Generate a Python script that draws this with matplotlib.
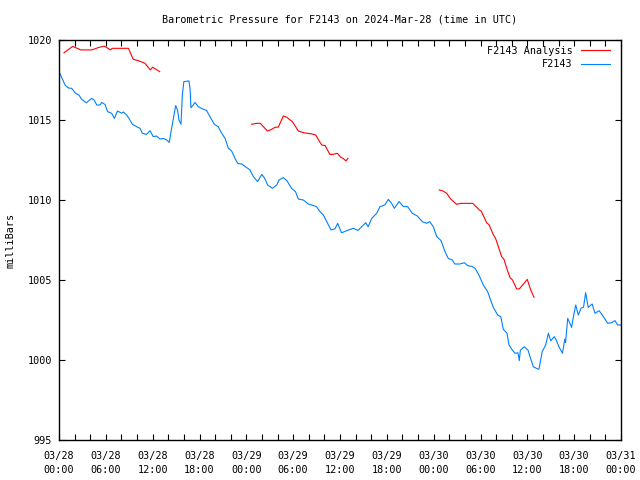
import matplotlib
matplotlib.use("Agg")
import matplotlib.pyplot as plt
import numpy as np

# ---- data (hours since 2024-03-28 00:00 UTC) ----
blue_h = [0.13, 0.77, 1.2, 1.62, 2.13, 2.56, 2.9, 3.5, 4.2, 4.5,
          4.83, 5.26, 5.47, 5.9, 6.23, 6.75, 7.09, 7.5, 8.03, 8.25,
          8.67, 8.97, 9.4, 9.95, 10.38, 10.67, 11.2, 11.66, 12.08, 12.5,
          12.94, 13.4, 13.8, 14.13, 14.35, 14.65, 14.95, 15.2, 15.37, 15.63,
          15.8, 16.0, 16.65, 16.8, 16.9, 17.2, 17.42, 17.85, 18.5, 18.9,
          19.35, 19.9, 20.4, 20.84, 21.27, 21.7, 22.12, 22.55, 22.9, 23.4,
          23.9, 24.47, 24.9, 25.45, 25.97, 26.3, 26.73, 27.33, 27.9, 28.18,
          28.74, 29.2, 29.8, 30.3, 30.66, 31.3, 31.94, 32.6, 33.0, 33.44,
          33.87, 34.3, 34.85, 35.36, 35.7, 36.2, 36.85, 37.7, 38.3, 38.78,
          39.3, 39.6, 40.06, 40.7, 41.12, 41.76, 42.19, 42.6, 42.96, 43.56,
          44.1, 44.67, 45.26, 45.9, 46.54, 47.1, 47.5, 47.95, 48.4, 48.95,
          49.45, 49.87, 50.4, 50.7, 51.35, 51.93, 52.35, 52.86, 53.3, 53.8,
          54.36, 54.92, 55.22, 55.64, 56.2, 56.6, 56.92, 57.4, 57.65, 58.0,
          58.42, 58.8, 58.97, 59.1, 59.6, 60.1, 60.34, 60.77, 61.4, 61.5,
          61.9, 62.35, 62.7, 63.0, 63.45, 63.7, 64.05, 64.5, 64.8, 64.9,
          65.17, 65.45, 65.67, 65.9, 66.2, 66.53, 66.9, 67.2, 67.47, 67.8,
          68.3, 68.67, 69.2, 69.74, 70.3, 70.8, 71.23, 71.57, 72.0]
blue_p = [1017.9, 1017.19, 1017.0, 1016.98, 1016.67, 1016.56, 1016.29, 1016.08, 1016.35, 1016.25,
          1015.94, 1015.94, 1016.1, 1015.97, 1015.52, 1015.42, 1015.1, 1015.56, 1015.42, 1015.5,
          1015.31, 1015.1, 1014.73, 1014.58, 1014.48, 1014.17, 1014.1, 1014.33, 1013.96, 1014.0,
          1013.81, 1013.85, 1013.75, 1013.6, 1014.27, 1015.1, 1015.9, 1015.6, 1015.0, 1014.73,
          1016.56, 1017.4, 1017.44, 1016.9, 1015.77, 1015.94, 1016.1, 1015.83, 1015.67, 1015.6,
          1015.2, 1014.73, 1014.58, 1014.17, 1013.86, 1013.23, 1013.06, 1012.6, 1012.29, 1012.25,
          1012.08, 1011.88, 1011.46, 1011.15, 1011.6, 1011.4, 1010.94, 1010.73, 1010.94, 1011.25,
          1011.4, 1011.2, 1010.73, 1010.52, 1010.06, 1010.0, 1009.75, 1009.65, 1009.58, 1009.27,
          1009.06, 1008.65, 1008.13, 1008.2, 1008.54, 1007.95, 1008.08, 1008.23, 1008.1, 1008.33,
          1008.58, 1008.33, 1008.85, 1009.17, 1009.58, 1009.7, 1010.04, 1009.8, 1009.48, 1009.9,
          1009.6, 1009.58, 1009.17, 1009.0, 1008.65, 1008.54, 1008.65, 1008.33, 1007.71, 1007.46,
          1006.77, 1006.35, 1006.25, 1006.0, 1006.0, 1006.08, 1005.9, 1005.85, 1005.73, 1005.31,
          1004.69, 1004.27, 1003.85, 1003.29, 1002.81, 1002.7, 1001.92, 1001.67, 1000.94, 1000.67,
          1000.42, 1000.45, 999.96, 1000.6, 1000.83, 1000.6, 1000.21, 999.58, 999.42, 999.45,
          1000.52, 1000.94, 1001.67, 1001.2, 1001.46, 1001.25, 1000.83, 1000.42, 1001.3, 1001.1,
          1002.6, 1002.3, 1002.04, 1002.7, 1003.44, 1002.81, 1003.25, 1003.3, 1004.21, 1003.29,
          1003.5, 1002.92, 1003.08, 1002.71, 1002.29, 1002.33, 1002.46, 1002.19, 1002.19]

red1_h = [0.64, 1.75, 2.8, 4.2, 5.0, 5.8, 6.6, 6.8, 8.9, 9.5, 10.2, 11.0, 11.7, 12.0, 12.9]
red1_p = [1019.2, 1019.6, 1019.38, 1019.38, 1019.52, 1019.62, 1019.38, 1019.48, 1019.48,
          1018.8, 1018.7, 1018.55, 1018.13, 1018.3, 1018.02]
red2_h = [24.68, 25.3, 25.8, 26.7, 27.1, 27.67, 28.1, 28.74, 29.2, 29.5, 29.9, 30.66, 31.4,
          32.37, 32.9, 33.2, 33.65, 34.1, 34.7, 35.1, 35.65, 36.1, 36.4, 36.77, 37.0]
red2_p = [1014.73, 1014.79, 1014.79, 1014.31, 1014.38, 1014.54, 1014.56, 1015.25, 1015.17,
          1015.04, 1014.9, 1014.31, 1014.2, 1014.13, 1014.06, 1013.8, 1013.44, 1013.4,
          1012.85, 1012.85, 1012.92, 1012.67, 1012.6, 1012.44, 1012.6]
red3_h = [48.72, 49.2, 49.67, 50.18, 50.95, 51.5, 53.0, 53.4, 53.85, 54.1, 54.79, 55.1,
          55.56, 55.97, 56.71, 57.0, 57.43, 57.78, 58.1, 58.63, 58.97, 59.99, 60.4, 60.85]
red3_p = [1010.63, 1010.56, 1010.42, 1010.06, 1009.73, 1009.79, 1009.79, 1009.6, 1009.38,
          1009.3, 1008.58, 1008.45, 1007.92, 1007.55, 1006.46, 1006.3, 1005.63, 1005.15,
          1005.0, 1004.44, 1004.44, 1005.04, 1004.42, 1003.92]

tick_dates = ["03/28", "03/28", "03/28", "03/28", "03/29", "03/29", "03/29", "03/29",
              "03/30", "03/30", "03/30", "03/30", "03/31"]
tick_times = ["00:00", "06:00", "12:00", "18:00"] * 3 + ["00:00"]
y_ticks = [995, 1000, 1005, 1010, 1015, 1020]

title = "Barometric Pressure for F2143 on 2024-Mar-28 (time in UTC)"

# ---- figure ----
FONT = "DejaVu Sans Mono"
FS = 7.3
plt.rcParams["font.family"] = FONT
fig = plt.figure(figsize=(6.4, 4.8), dpi=100)
ax = fig.add_axes([59 / 640, 1 - 440 / 480, (621 - 59) / 640, 400 / 480])

red_h = red1_h + [np.nan] + red2_h + [np.nan] + red3_h
red_p = red1_p + [np.nan] + red2_p + [np.nan] + red3_p

ax.plot(red_h, red_p, color="#ff0000", lw=0.8, label="F2143 Analysis")
ax.plot(blue_h, blue_p, color="#0080ff", lw=0.8, label="F2143")

ax.set_xlim(0, 72)
ax.set_ylim(995, 1020)
ax.set_xticks(np.arange(0, 73, 6))
ax.set_xticks(np.arange(0, 73, 2), minor=True)
ax.set_xticklabels([f"{d}\n{t}" for d, t in zip(tick_dates, tick_times)], fontsize=FS,
                   linespacing=1.45)
ax.set_yticks(y_ticks)
ax.set_yticklabels([str(v) for v in y_ticks], fontsize=FS)
ax.tick_params(axis="both", which="both", direction="in", length=4, width=0.8,
               top=True, right=True, colors="black")
ax.tick_params(axis="x", which="major", pad=8)
ax.tick_params(axis="y", which="major", pad=5)
for s in ax.spines.values():
    s.set_linewidth(1.0)

ax.set_ylabel("milliBars", fontsize=FS, labelpad=9)
fig.text(340 / 640, 1 - 19 / 480, title, ha="center", va="center", fontsize=FS)

leg = ax.legend(loc="upper right", bbox_to_anchor=(1 - 11 / 562, 1 - 6 / 400),
                frameon=False, markerfirst=False, fontsize=FS,
                handlelength=2.9, handletextpad=0.75, labelspacing=0.32,
                borderaxespad=0.0, borderpad=0.0)

fig.savefig("out.png", dpi=100)
